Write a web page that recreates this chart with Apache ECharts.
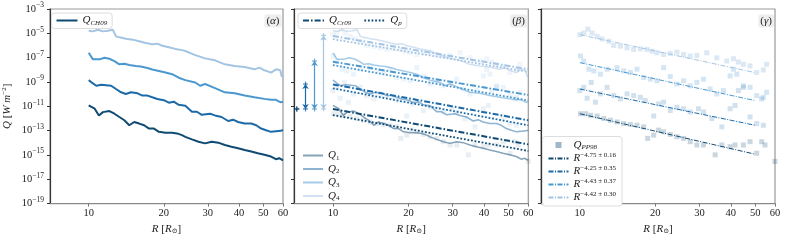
<!DOCTYPE html>
<html><head><meta charset="utf-8">
<script src="https://cdn.jsdelivr.net/npm/echarts@6/dist/echarts.min.js"></script>
<style>html,body{margin:0;padding:0;background:#fff}#c{width:785px;height:240px}</style>
</head><body><div id="c"></div>
<script>
// ---------- data (R in solar radii, values are log10 Q) ----------
const xTicks = [10, 20, 30, 40, 50, 60];
const yTicks = [-19, -17, -15, -13, -11, -9, -7, -5, -3];
const xRange = [7, 60];

const Q1 = [[10.0,-10.93],[10.57,-11.20],[10.99,-11.75],[11.40,-11.48],[12.11,-11.39],[12.68,-11.61],[13.27,-11.88],[13.89,-12.15],[14.54,-12.56],[15.22,-12.29],[15.93,-12.42],[16.67,-12.56],[17.45,-12.83],[18.26,-12.83],[19.11,-13.10],[20.31,-13.18],[21.59,-13.18],[22.59,-13.23],[23.64,-13.37],[24.38,-13.51],[25.91,-13.72],[27.53,-13.91],[29.25,-14.05],[31.09,-13.91],[33.03,-13.99],[35.10,-14.18],[37.30,-14.32],[39.64,-14.45],[42.13,-14.59],[44.77,-14.72],[47.57,-14.86],[50.55,-14.99],[53.73,-15.13],[56.23,-15.35],[57.97,-15.27],[60.0,-15.45]];
const Q2 = [[10.0,-8.85],[10.40,-9.12],[10.73,-9.31],[11.23,-9.23],[11.75,-9.26],[12.30,-9.31],[12.87,-9.58],[13.48,-9.85],[14.10,-9.99],[14.76,-9.85],[15.69,-9.93],[16.42,-10.12],[17.19,-10.12],[17.98,-10.26],[18.83,-10.40],[20.0,-10.50],[20.94,-10.70],[21.91,-10.62],[22.94,-10.88],[24.38,-10.95],[25.91,-11.45],[27.12,-11.45],[28.38,-11.70],[30.62,-11.61],[32.05,-11.75],[34.05,-11.88],[36.19,-12.21],[37.87,-12.10],[39.64,-12.29],[42.13,-12.42],[44.77,-12.42],[46.87,-12.56],[49.04,-12.83],[51.33,-12.97],[53.73,-13.10],[56.23,-13.05],[58.86,-13.02],[60.0,-12.95]];
const Q3 = [[10.0,-6.60],[10.40,-7.14],[11.06,-7.14],[11.57,-7.01],[12.11,-7.09],[12.68,-7.28],[13.27,-7.55],[13.89,-7.50],[14.54,-7.60],[15.45,-7.68],[16.17,-7.72],[17.19,-7.85],[17.98,-7.98],[19.11,-8.10],[20.31,-8.22],[21.59,-8.36],[22.94,-8.65],[24.38,-8.85],[26.71,-9.04],[27.95,-9.31],[29.25,-9.17],[32.05,-9.50],[35.10,-9.85],[38.46,-9.93],[42.13,-10.12],[46.15,-10.26],[50.55,-10.39],[53.73,-10.47],[56.23,-10.47],[58.49,-10.66],[60.0,-10.62]];
const Q4 = [[10.0,-4.79],[10.40,-4.84],[10.89,-4.71],[11.40,-4.84],[11.93,-4.79],[12.49,-4.71],[12.87,-5.25],[13.27,-5.33],[14.10,-5.44],[14.99,-5.52],[15.93,-5.65],[16.93,-5.79],[17.98,-5.90],[18.83,-5.85],[19.71,-6.02],[20.94,-6.15],[22.25,-6.28],[23.64,-6.38],[24.38,-6.45],[26.71,-6.79],[29.25,-7.06],[32.05,-7.22],[35.10,-7.55],[38.46,-7.68],[42.13,-7.77],[46.15,-7.96],[48.31,-7.82],[50.55,-8.04],[53.73,-8.23],[56.23,-7.96],[58.49,-8.04],[59.22,-8.50],[60.0,-8.60]];

// panel beta: model lines (values at R = 10 and R = 60)
const modelR = [10, 60];
const Cr09 = [[-11.22,-14.13],[-9.20,-12.15],[-7.33,-10.07],[-5.22,-7.96]];
const Qp   = [[-11.72,-14.67],[-9.52,-12.56],[-7.61,-10.53],[-5.48,-8.17]];
// offset arrows
const arrowR = [7.18, 7.78, 8.45, 9.18];
const arrowBase = -11.22;
const arrowTop = [-11.22, -9.17, -7.28, -5.17];

// panel gamma: PP98 data and fits
const PP1 = [[10.06,-11.61],[10.53,-11.61],[11.03,-11.74],[11.72,-11.80],[12.46,-12.01],[13.24,-12.15],[14.07,-12.29],[14.96,-12.42],[15.91,-12.50],[16.90,-12.56],[17.97,-12.69],[18.64,-13.64],[19.70,-13.37],[20.61,-12.96],[21.58,-13.10],[22.94,-13.31],[24.38,-13.50],[25.92,-13.64],[27.54,-13.91],[29.28,-14.18],[31.12,-14.18],[34.63,-14.99],[36.82,-14.18],[39.73,-14.32],[41.59,-14.18],[44.89,-14.18],[47.71,-13.91],[50.72,-14.86],[53.09,-13.91],[54.73,-14.18],[59.98,-15.53]];
const PP2 = [[10.0,-9.71],[10.37,-9.44],[10.69,-10.34],[11.10,-9.04],[11.54,-10.66],[12.08,-9.98],[12.84,-9.44],[13.65,-10.12],[14.51,-10.39],[15.43,-9.98],[16.39,-10.12],[17.43,-10.26],[18.24,-10.53],[19.70,-11.80],[20.61,-10.80],[21.58,-10.66],[22.94,-11.34],[24.38,-11.07],[25.92,-11.20],[27.54,-11.47],[29.73,-11.20],[31.12,-11.47],[33.59,-12.01],[36.82,-12.69],[39.73,-11.20],[41.59,-10.93],[42.88,-9.71],[44.89,-9.44],[47.71,-11.88],[50.72,-12.42],[53.09,-10.39],[53.90,-12.56]];
const PP3 = [[10.06,-6.87],[10.37,-7.28],[10.86,-7.95],[11.37,-8.09],[12.08,-8.36],[12.84,-7.95],[14.07,-7.82],[14.96,-8.09],[15.91,-8.22],[16.90,-7.95],[17.97,-8.63],[19.10,-8.77],[20.30,-8.90],[21.58,-7.82],[22.94,-8.55],[24.38,-9.17],[25.92,-8.90],[27.54,-9.31],[29.28,-9.04],[31.12,-8.77],[33.08,-9.58],[35.16,-9.98],[37.38,-9.71],[39.73,-8.50],[40.97,-7.95],[42.23,-8.36],[44.89,-9.31],[47.71,-9.44],[50.72,-10.12],[53.90,-10.26],[55.58,-9.85]];
const PP4 = [[10.0,-5.11],[10.37,-4.98],[10.76,-4.65],[11.19,-4.98],[11.72,-5.25],[12.27,-5.46],[13.04,-5.65],[13.65,-6.00],[14.51,-6.06],[15.43,-6.19],[16.39,-6.33],[17.43,-6.28],[18.52,-6.33],[19.39,-6.47],[20.30,-6.60],[21.58,-6.74],[22.94,-6.65],[24.38,-6.55],[25.92,-6.74],[27.54,-6.87],[29.28,-6.82],[32.08,-6.60],[35.16,-7.01],[38.54,-7.28],[40.97,-7.09],[42.88,-7.36],[44.89,-7.55],[47.71,-7.68],[50.72,-8.22],[53.90,-8.01],[55.58,-7.55]];
const fitR = [10, 50];
const fits = [[-11.61,-14.94],[-9.58,-12.56],[-7.41,-10.53],[-5.11,-8.23]];
const fitExp = ['−4.75 ± 0.16', '−4.25 ± 0.35', '−4.43 ± 0.37', '−4.42 ± 0.30'];

// ---------- styling ----------
const C = ['#0f4a73', '#1c6aa8', '#4a98cf', '#a4c4e3'];
const ppOpacity = [0.22, 0.2, 0.24, 0.38];
const FONT = "'Liberation Serif', 'DejaVu Serif', serif";
const TXT = '#222';
const YMIN = yTicks[0], YMAX = yTicks[yTicks.length - 1];
const L = Math.log10;
const Y = v => v - YMIN;
const pts = arr => arr.map(([r, v]) => [L(r), Y(v)]);
const seg = (rs, vs) => rs.map((r, i) => [L(r), Y(vs[i])]);

const rich = {
  i:  {fontFamily: FONT, fontStyle: 'italic', fontWeight: 'normal', fontSize: 11, color: TXT},
  n:  {fontFamily: FONT, fontWeight: 'normal', fontSize: 11, color: TXT},
  s:  {fontFamily: FONT, fontStyle: 'italic', fontSize: 7, color: TXT, padding: [5, 0, 0, 0]},
  u:  {fontFamily: FONT, fontSize: 7, color: TXT, padding: [5, 0, 0, 0]},
  sup:{fontFamily: FONT, fontSize: 7, color: TXT, padding: [0, 0, 6, 0]},
  b:  {fontFamily: FONT, fontSize: 10.5, color: TXT},
  e:  {fontFamily: FONT, fontSize: 7.5, color: TXT, padding: [0, 0, 7, 0]}
};

const grids = [
  {left: 47.7, top: 9, width: 235.3, height: 197},
  {left: 294, top: 9, width: 234.3, height: 197},
  {left: 541, top: 9, width: 234, height: 197}
].map(g => Object.assign(g, {show: true, borderColor: '#999', borderWidth: 1.2, backgroundColor: 'transparent'}));

const xTickPos = xTicks.map(L);
const xAxes = [0, 1, 2].map(i => ({
  gridIndex: i, type: 'value', min: L(xRange[0]), max: L(xRange[1]),
  axisLine: {show: true, onZero: false, lineStyle: {color: '#888', width: 1.2}},
  axisTick: {show: true, customValues: xTickPos, length: 3, lineStyle: {color: '#777'}},
  axisLabel: {show: true, customValues: xTickPos, formatter: v => String(Math.round(Math.pow(10, v))),
              fontFamily: FONT, fontSize: 10.5, color: TXT, margin: 4},
  splitLine: {show: false},
  name: '{i|R}{n| [}{i|R}{u|⊙}{n|]}', nameLocation: 'middle', nameGap: 19,
  nameTextStyle: {rich}
}));
const yAxes = [0, 1, 2].map(i => ({
  gridIndex: i, type: 'value', min: 0, max: YMAX - YMIN, interval: 2,
  axisLine: {show: true, onZero: false, lineStyle: {color: '#333', width: 1.2}},
  axisTick: {show: true, length: 3, lineStyle: {color: '#333'}},
  axisLabel: {show: i === 0, margin: 6,
              formatter: v => '{b|10}{e|−' + Math.abs(v + YMIN) + '}', rich},
  splitLine: {show: false},
  name: i === 0 ? '{i|Q}{n| [}{i|W m}{sup|−2}{n|]}' : '', nameLocation: 'middle', nameGap: 36,
  nameRotate: 90, nameTextStyle: {rich}
}));

const series = [];
const Qs = [Q1, Q2, Q3, Q4];
const PPs = [PP1, PP2, PP3, PP4];

// panel alpha
Qs.forEach((q, k) => series.push({
  name: k === 0 ? 'QCH09' : 'a' + (k + 1), type: 'line', xAxisIndex: 0, yAxisIndex: 0,
  data: pts(q), symbol: 'none', lineStyle: {color: C[k], width: 2}, itemStyle: {color: C[k]}, z: 3
}));

// panel beta
PPs.forEach((p, k) => series.push({
  name: 'bp' + k, type: 'scatter', xAxisIndex: 1, yAxisIndex: 1, data: pts(p),
  symbol: 'rect', symbolSize: 5, itemStyle: {color: C[k], opacity: ppOpacity[k] * 0.45}, z: 1, silent: true
}));
Qs.forEach((q, k) => series.push({
  name: 'Q' + (k + 1), type: 'line', xAxisIndex: 1, yAxisIndex: 1,
  data: pts(q), symbol: 'none', lineStyle: {color: C[k], width: 1.5, opacity: 0.5},
  itemStyle: {color: C[k]}, z: 2
}));
Cr09.forEach((c, k) => series.push({
  name: k === 0 ? 'QCr09' : 'cr' + k, type: 'line', xAxisIndex: 1, yAxisIndex: 1,
  data: seg(modelR, c), symbol: 'none',
  lineStyle: {color: C[k], width: 2, type: [6, 2, 1.6, 2]}, itemStyle: {color: C[k]}, z: 4
}));
Qp.forEach((c, k) => series.push({
  name: k === 0 ? 'Qp' : 'qp' + k, type: 'line', xAxisIndex: 1, yAxisIndex: 1,
  data: seg(modelR, c), symbol: 'none',
  lineStyle: {color: C[k], width: 1.8, type: [1.8, 1.8]}, itemStyle: {color: C[k]}, z: 4
}));
series.push({
  type: 'lines', coordinateSystem: 'cartesian2d', xAxisIndex: 1, yAxisIndex: 1,
  symbol: ['arrow', 'arrow'], symbolSize: 5, z: 5, silent: true,
  data: arrowR.slice(1).map((r, j) => ({
    coords: [[L(r), Y(arrowBase)], [L(r), Y(arrowTop[j + 1])]],
    lineStyle: {color: C[j + 1], width: 1.2, opacity: 1}
  }))
});
const caps = [];
arrowR.forEach((r, k) => {
  caps.push({value: [L(r), Y(arrowBase)], itemStyle: {color: C[k]}});
  caps.push({value: [L(r), Y(arrowTop[k])], itemStyle: {color: C[k]}});
});
series.push({type: 'scatter', xAxisIndex: 1, yAxisIndex: 1, data: caps, symbol: 'rect', symbolSize: [5, 1.2], z: 6, silent: true});
series.push({type: 'scatter', xAxisIndex: 1, yAxisIndex: 1, data: caps, symbol: 'rect', symbolSize: [1.2, 5], z: 6, silent: true});

// panel gamma
PPs.forEach((p, k) => series.push({
  name: k === 0 ? 'QPP98' : 'pp' + k, type: 'scatter', xAxisIndex: 2, yAxisIndex: 2, data: pts(p),
  symbol: 'rect', symbolSize: 5, itemStyle: {color: C[k], opacity: ppOpacity[k]}, z: 1
}));
fits.forEach((f, k) => series.push({
  name: 'f' + (k + 1), type: 'line', xAxisIndex: 2, yAxisIndex: 2, data: seg(fitR, f),
  symbol: 'none', lineStyle: {color: C[k], width: 1, type: [5, 1.5, 1, 1.5]}, itemStyle: {color: C[k]}, z: 3
}));

const labelOf = {
  QCH09: '{i|Q}{s|CH09}', QCr09: '{i|Q}{s|Cr09}', Qp: '{i|Q}{s|p}', QPP98: '{i|Q}{s|PP98}',
  Q1: '{i|Q}{u|1}', Q2: '{i|Q}{u|2}', Q3: '{i|Q}{u|3}', Q4: '{i|Q}{u|4}'
};
fitExp.forEach((e, k) => labelOf['f' + (k + 1)] = '{i|R}{sup|' + e + '}');
const fmt = name => labelOf[name] || name;
const lineItem = name => ({name: name, itemStyle: {opacity: 0, borderWidth: 0}});
const legBase = {formatter: fmt, textStyle: {rich, color: TXT}, itemWidth: 21, itemHeight: 8, selectedMode: false};

const legends = [
  Object.assign({}, legBase, {data: ['QCH09'].map(lineItem), left: 51.5, top: 13, orient: 'horizontal',
    padding: [2, 5, 2, 4], backgroundColor: '#fff', borderColor: '#ddd', borderWidth: 1, borderRadius: 3}),
  Object.assign({}, legBase, {data: ['QCr09', 'Qp'].map(lineItem), left: 298, top: 13, orient: 'horizontal', itemGap: 12,
    padding: [2, 5, 2, 4], backgroundColor: '#fff', borderColor: '#ddd', borderWidth: 1, borderRadius: 3}),
  Object.assign({}, legBase, {data: ['Q1', 'Q2', 'Q3', 'Q4'].map(lineItem), left: 298, top: 150, orient: 'vertical', itemGap: 2,
    itemWidth: 20, padding: [0, 0, 0, 4]}),
  Object.assign({}, legBase, {data: [{name: 'QPP98', icon: 'path://M0,0L10,0L10,10L0,10Z', itemStyle: {opacity: 0.4}}].concat(['f1', 'f2', 'f3', 'f4'].map(lineItem)),
    left: 542.5, top: 136.5, orient: 'vertical', symbolKeepAspect: true,
    itemGap: 1, itemWidth: 20, itemHeight: 6,
    padding: [3, 6, 3, 5], backgroundColor: '#fff', borderColor: '#ddd', borderWidth: 1, borderRadius: 3})
];

const tag = (txt, right) => ({
  text: '{n|(}{i|' + txt + '}{n|)}', right: right, top: 14.5,
  backgroundColor: '#eeeeee', borderRadius: 2, padding: [1, 2, 1, 2],
  textStyle: {rich, fontSize: 11, fontWeight: 'normal'}
});

const chart = echarts.init(document.getElementById('c'), null, {renderer: 'canvas'});
chart.setOption({
  animation: false,
  backgroundColor: '#fff',
  title: [tag('α', 785 - 281.5), tag('β', 785 - 527), tag('γ', 785 - 774)],
  grid: grids, xAxis: xAxes, yAxis: yAxes,
  legend: legends,
  series: series
});
</script></body></html>
